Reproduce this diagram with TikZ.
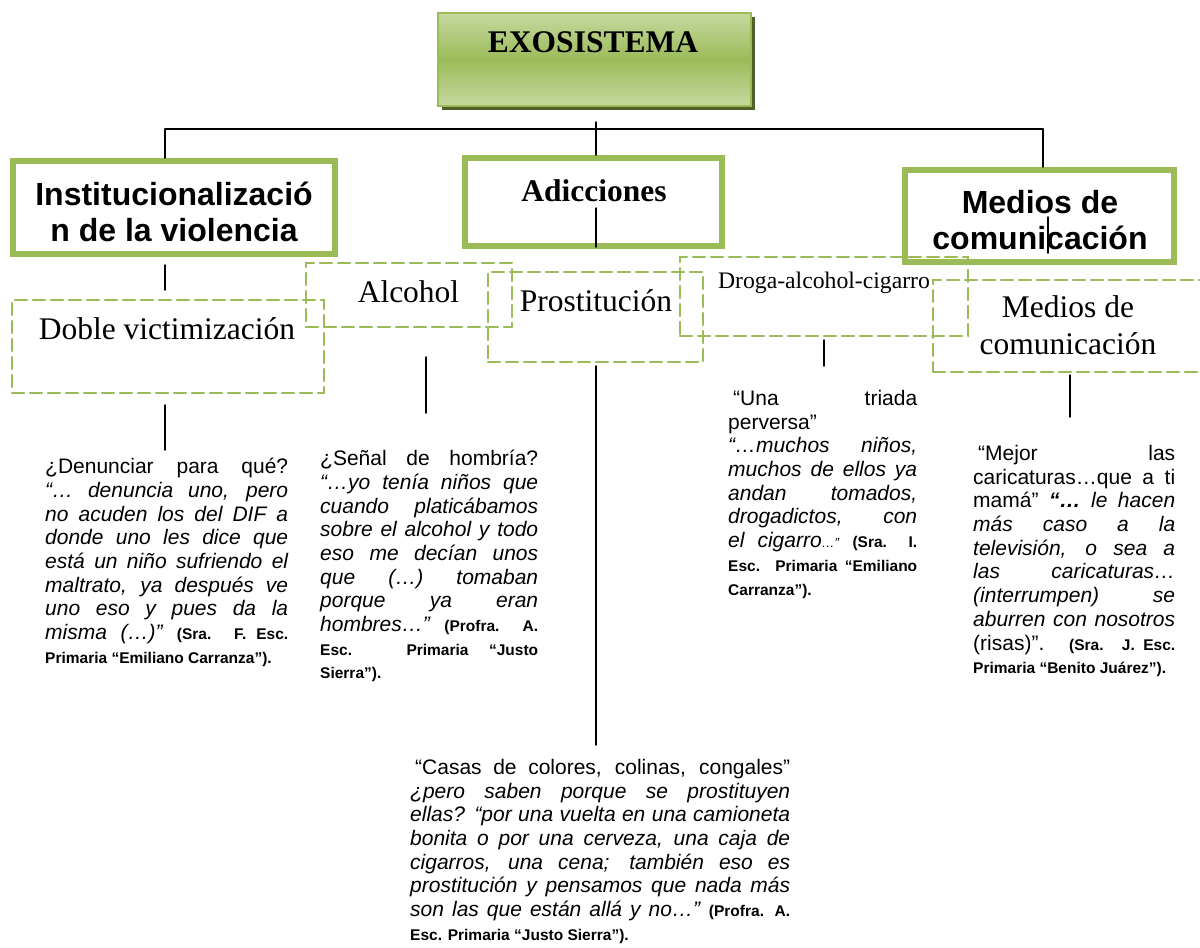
\documentclass[tikz,border=0pt]{standalone}
\usepackage{fontspec}
\setmainfont{Liberation Serif}
\setsansfont{Liberation Sans}
\usetikzlibrary{shadows}
\definecolor{oliva}{HTML}{9BBB59}
\definecolor{olivaclara}{HTML}{C6D9A0}
\definecolor{olivaoscura}{HTML}{4F6228}
\newcommand{\firma}[1]{{\fontsize{15.5}{19}\selectfont\bfseries\upshape #1}}
\newcommand{\pasafirma}{\parfillskip=0pt\par\parfillskip=0pt plus 1fil\fontsize{15.5}{19}\selectfont\bfseries\upshape}

\begin{document}
\begin{tikzpicture}[x=1pt,y=-1pt,line cap=round,
  cajafirme/.style={draw=oliva,line width=6pt,inner sep=0pt},
  cajapunteada/.style={draw=oliva,line width=2.5pt,dash pattern=on 12pt off 6pt,inner sep=0pt},
  tituloserif/.style={font=\fontsize{31.5}{37}\selectfont\bfseries,inner sep=0pt},
  titulosans/.style={font=\fontsize{32}{36}\selectfont\sffamily\bfseries,align=center,inner sep=0pt},
  rotulo/.style={font=\fontsize{31.5}{37}\selectfont,align=center,inner sep=0pt},
  cita/.style={anchor=north west,inner sep=0pt,align=justify,
    font=\fontsize{21}{23.7}\selectfont\sffamily,
    execute at begin node={\hyphenpenalty=10000\exhyphenpenalty=10000\tolerance=10000}},
  conector/.style={line width=1.5pt}]
  \useasboundingbox (0,0) rectangle (1200,948);

  % cabecera
  \node[draw=oliva,line width=2pt,top color=olivaclara,bottom color=olivaclara,middle color=oliva,
    minimum width=313pt,minimum height=93pt,
    drop shadow={shadow xshift=4pt,shadow yshift=-4pt,fill=olivaoscura,opacity=1}] (exo) at (594.5,59.5) {};
  \node[tituloserif] (exoT) at (593,42.5) {EXOSISTEMA};

  % tres ramas
  \node[cajafirme,minimum width=322pt,minimum height=93pt] (inst) at (174,207.5) {};
  \node[titulosans] (instT) at (174,212) {Institucionalizació\\n de la violencia};
  \node[cajafirme,minimum width=257pt,minimum height=88pt] (adic) at (593.5,202) {};
  \node[tituloserif] (adicT) at (594,191) {Adicciones};
  \node[cajafirme,minimum width=269pt,minimum height=92pt] (medios) at (1039.5,216) {};
  \node[titulosans] (mediosT) at (1040,220) {Medios de\\comunicación};

  % subtemas
  \node[cajapunteada,minimum width=312pt,minimum height=93pt] (doble) at (168,346.5) {};
  \node[rotulo] (dobleT) at (167,329) {Doble victimización};
  \node[cajapunteada,minimum width=206pt,minimum height=64pt] (alcohol) at (409,295) {};
  \node[rotulo] (alcoholT) at (408.5,292) {Alcohol};
  \node[cajapunteada,minimum width=215pt,minimum height=90pt] (prost) at (595.5,317) {};
  \node[rotulo] (prostT) at (596,301) {Prostitución};
  \node[cajapunteada,minimum width=288pt,minimum height=79pt] (droga) at (824,296.5) {};
  \node[font=\fontsize{23.7}{28}\selectfont,inner sep=0pt] (drogaT) at (824,282.5) {Droga-alcohol-cigarro};
  \node[cajapunteada,minimum width=282pt,minimum height=92pt] (medios2) at (1074,326) {};
  \node[rotulo] (medios2T) at (1068,325.6) {Medios de\\comunicación};

  % testimonios
  \node[cita,text width=243pt] (citaDoble) at (45,458) {%
    ¿Denunciar para qué?\linebreak
    \textit{“… denuncia uno, pero\linebreak no acuden los del DIF a\linebreak donde uno les dice que\linebreak
    está un niño sufriendo el\linebreak maltrato, ya después ve\linebreak uno eso y pues da la\linebreak
    misma (…)”} \firma{(Sra. F. Esc.}\pasafirma
    Primaria “Emiliano Carranza”).};
  \node[cita,text width=218pt] (citaAlcohol) at (320,450) {%
    ¿Señal de hombría?\linebreak
    \textit{“…yo tenía niños que\linebreak cuando platicábamos\linebreak sobre el alcohol y todo\linebreak
    eso me decían unos\linebreak que (…) tomaban\linebreak porque ya eran\linebreak
    hombres…”} \firma{(Profra. A.}\pasafirma
    Esc. Primaria “Justo\linebreak Sierra”).};
  \node[cita,text width=189pt] (citaDroga) at (728,390) {%
    \hspace*{5pt}“Una triada\linebreak perversa”\newline
    \textit{“…muchos niños,\linebreak muchos de ellos ya\linebreak andan tomados,\linebreak
    drogadictos, con\linebreak el cigarro{\fontsize{13}{15}\selectfont…”}} \firma{(Sra. I.}\pasafirma
    Esc. Primaria “Emiliano\linebreak Carranza”).};
  \node[cita,text width=202pt] (citaMedios) at (973,445) {%
    \hspace*{5pt}“Mejor las\linebreak caricaturas…que a ti\linebreak
    mamá” \textbf{\textit{“…}} \textit{le hacen\linebreak más caso a la\linebreak televisión, o sea a\linebreak
    las caricaturas…\linebreak (interrumpen) se\linebreak aburren con nosotros}\linebreak
    (risas)”. \firma{(Sra. J. Esc.}\pasafirma
    Primaria “Benito Juárez”).};
  \node[cita,text width=380pt] (citaProst) at (410,759) {%
    \hspace*{5pt}“Casas de colores, colinas, congales”\linebreak
    \textit{¿pero saben porque se prostituyen\linebreak ellas? “por una vuelta en una camioneta\linebreak
    bonita o por una cerveza, una caja de\linebreak cigarros, una cena; también eso es\linebreak
    prostitución y pensamos que nada más\linebreak son las que están allá y no…”} \firma{(Profra. A.}\pasafirma
    Esc. Primaria “Justo Sierra”).};

  % conectores
  \coordinate (rIzq) at (165,129);
  \coordinate (rDer) at (1043,129);
  \coordinate (rSup) at (596,122);
  \draw[conector] (rIzq) -- (rDer);
  \draw[conector] (rSup) -- (rSup |- adic.north);
  \draw[conector] (rIzq) -- (rIzq |- inst.north);
  \draw[conector] (rDer) -- (rDer |- medios.north);

  \coordinate (a1) at (165,265);  \coordinate (b1) at (165,290);
  \coordinate (a2) at (165,405);  \coordinate (b2) at (165,450);
  \coordinate (a3) at (426,357);  \coordinate (b3) at (426,413);
  \coordinate (a4) at (596,366);  \coordinate (b4) at (596,745);
  \coordinate (a5) at (824,340);  \coordinate (b5) at (824,366);
  \coordinate (a6) at (1070,375); \coordinate (b6) at (1070,417);
  \coordinate (a7) at (596,208);  \coordinate (b7) at (596,247);
  \coordinate (a8) at (1048,217); \coordinate (b8) at (1048,253);
  \foreach \i in {1,...,8}
    \draw[conector] (a\i) -- (b\i);
\end{tikzpicture}
\end{document}
